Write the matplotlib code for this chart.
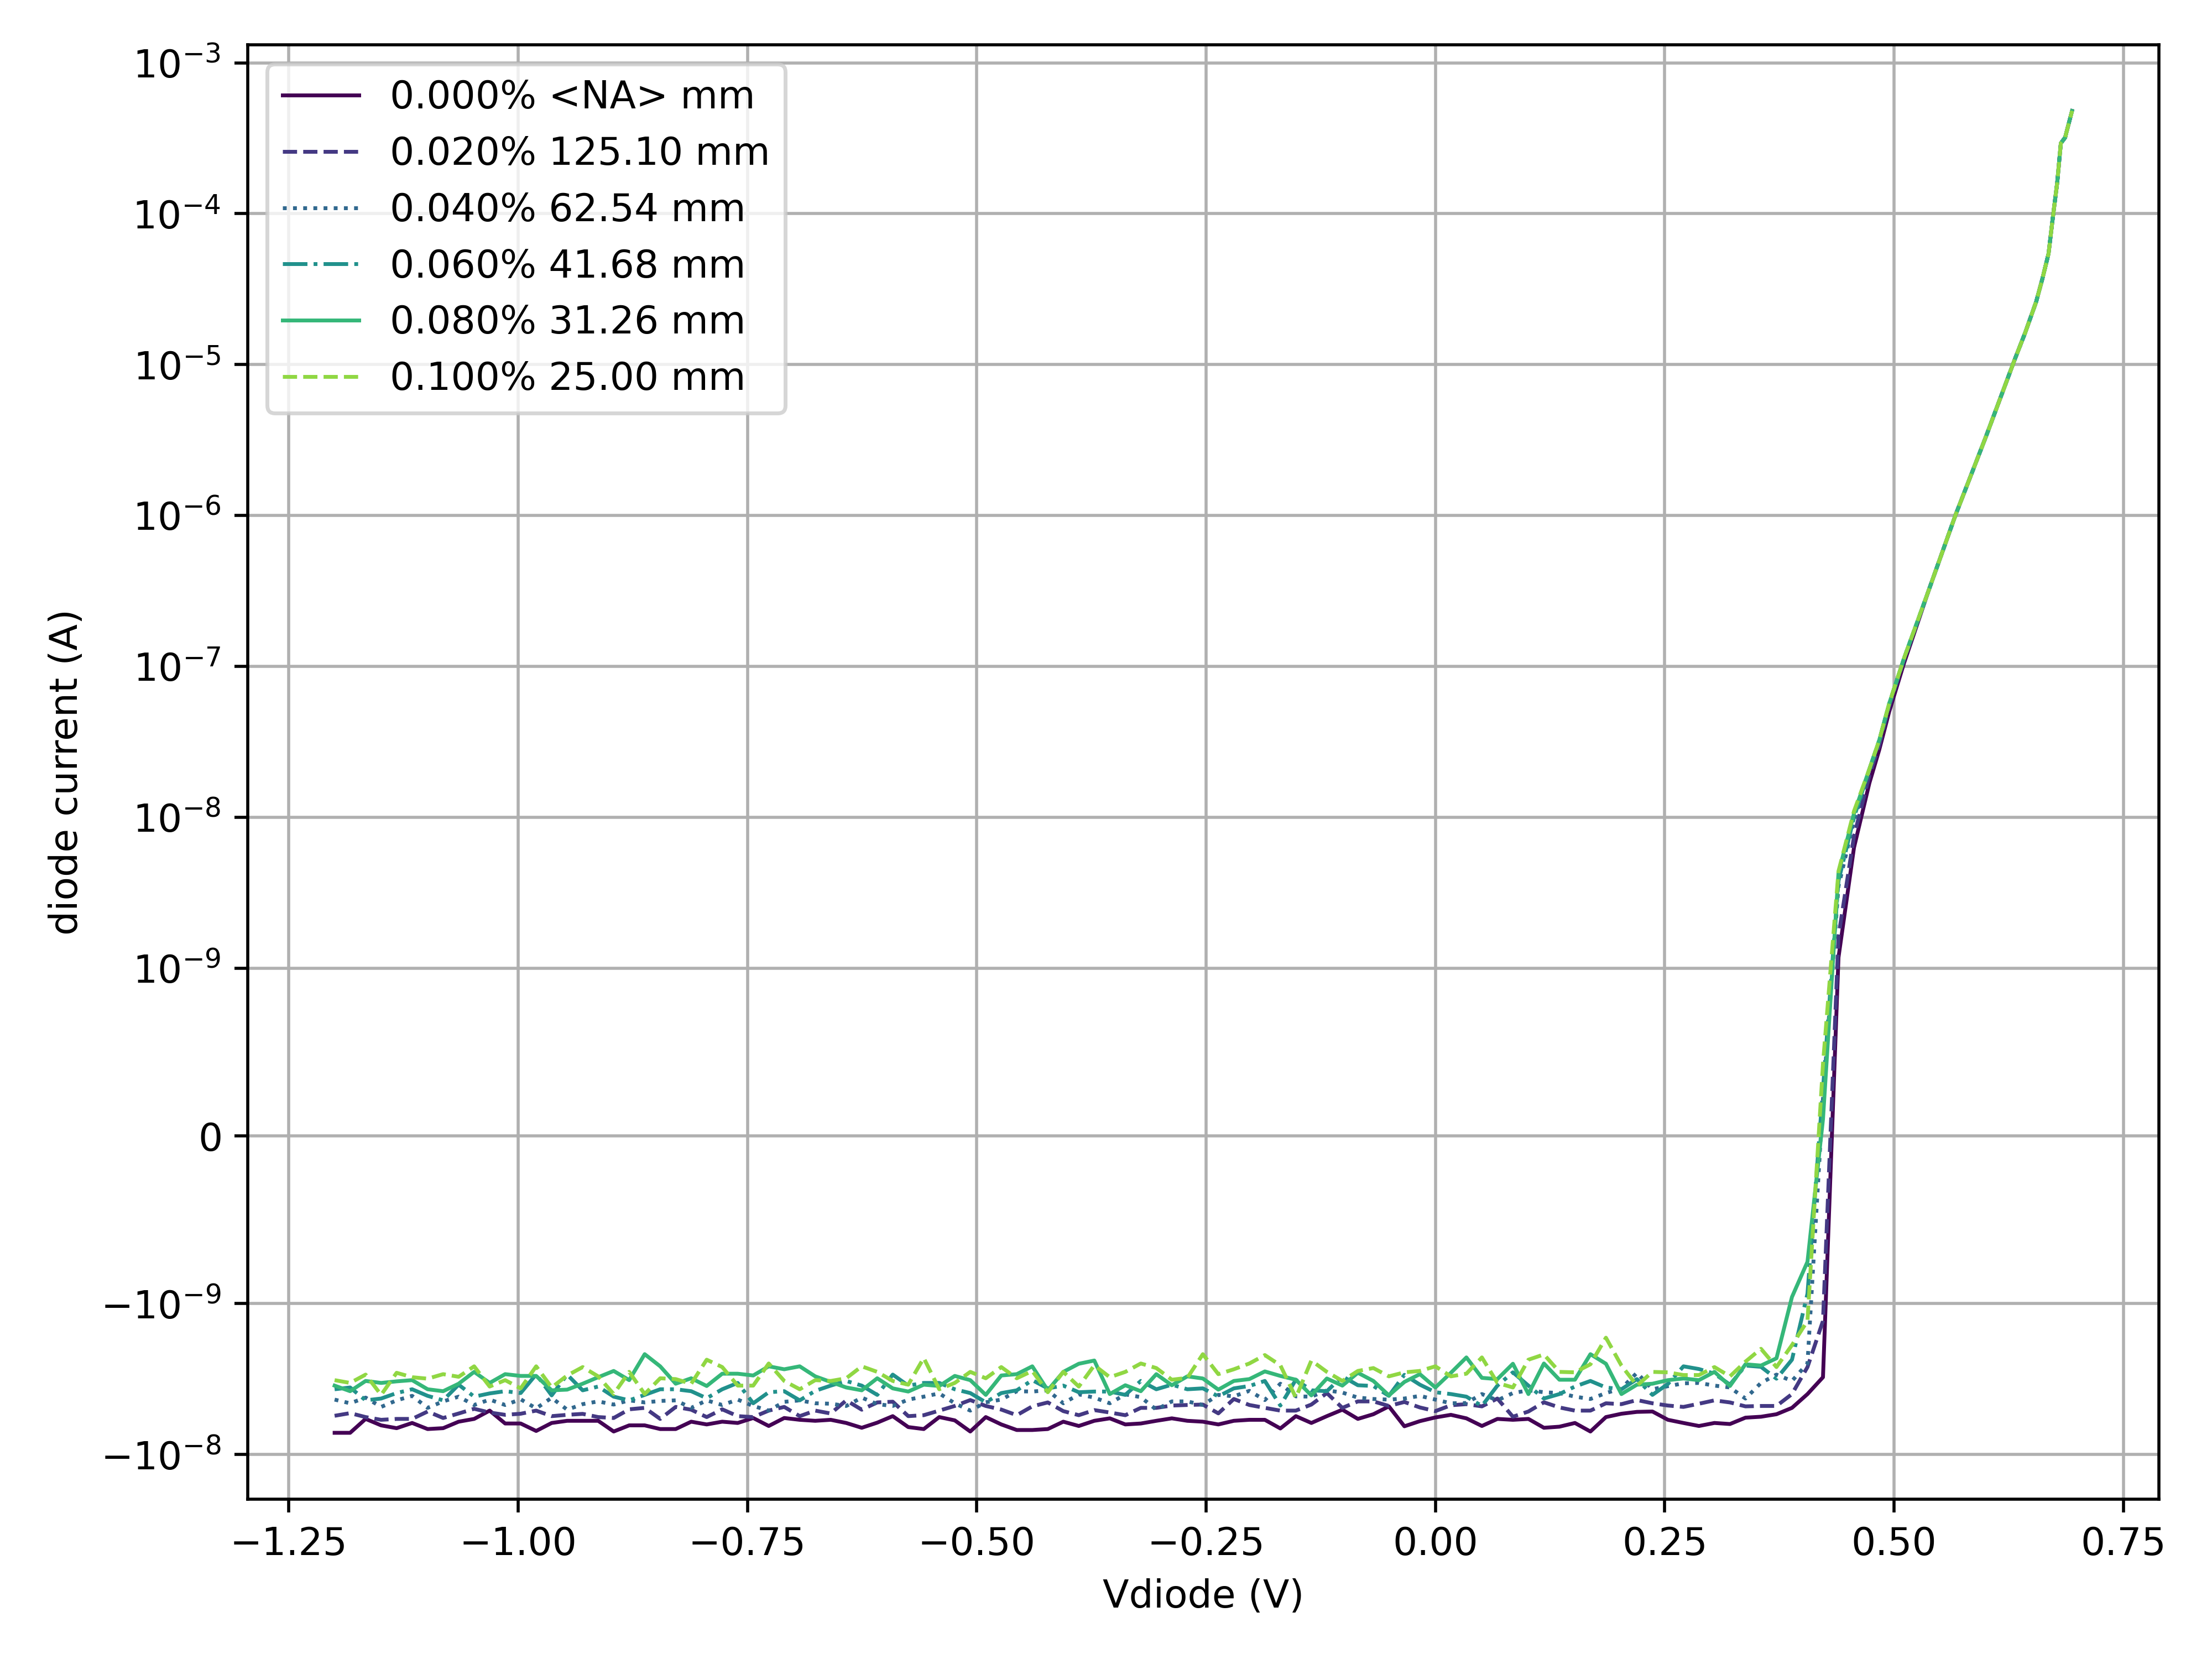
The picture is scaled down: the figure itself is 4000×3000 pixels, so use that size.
import matplotlib
matplotlib.use('Agg')
import matplotlib.pyplot as plt
import numpy as np

labels = ['0.000% <NA> mm', '0.020% 125.10 mm', '0.040% 62.54 mm',
          '0.060% 41.68 mm', '0.080% 31.26 mm', '0.100% 25.00 mm']

# reverse / leakage part: uniform Vdiode grid from -1.2 V up to the knee (97 points)
v_rev = np.linspace(-1.2, 0.4225, 97)

# leakage current in nA (one list per curve)
i_rev_na = [
    [-7.17, -7.17, -5.80, -6.40, -6.68, -6.17, -6.77, -6.68, -6.05, -5.80,
     -5.11, -6.22, -6.22, -6.97, -6.17, -5.97, -5.97, -5.97, -7.03, -6.40,
     -6.40, -6.77, -6.77, -6.05, -6.31, -6.05, -6.17, -5.72, -6.46, -5.72,
     -5.88, -5.97, -5.88, -6.17, -6.64, -6.14, -5.56, -6.57, -6.77, -5.64,
     -5.93, -7.03, -5.64, -6.31, -6.87, -6.87, -6.77, -6.05, -6.46, -5.97,
     -5.75, -6.31, -6.22, -5.97, -5.75, -5.97, -6.05, -6.31, -5.97, -5.88,
     -5.88, -6.71, -5.56, -6.17, -5.56, -5.04, -5.80, -5.40, -4.79, -6.49,
     -6.00, -5.67, -5.45, -5.75, -6.46, -5.80, -5.88, -5.80, -6.64, -6.53,
     -6.17, -7.03, -5.64, -5.36, -5.21, -5.18, -5.88, -6.17, -6.46, -6.17,
     -6.27, -5.69, -5.61, -5.40, -4.90, -3.97, -3.07],
    [-5.53, -5.31, -5.64, -5.88, -5.80, -5.80, -5.18, -5.72, -5.34, -4.97,
     -5.26, -5.45, -5.36, -5.11, -5.56, -5.45, -5.37, -5.64, -5.72, -5.01,
     -4.90, -5.80, -4.83, -5.04, -5.64, -5.01, -5.56, -5.64, -5.11, -4.83,
     -5.56, -5.11, -5.34, -4.37, -5.04, -4.51, -4.46, -5.56, -5.48, -5.11,
     -4.76, -4.35, -4.76, -5.03, -5.48, -4.79, -4.51, -5.15, -5.48, -5.07,
     -5.26, -5.48, -4.90, -4.90, -4.73, -4.69, -4.66, -5.33, -4.28, -4.69,
     -4.90, -5.11, -5.11, -4.66, -3.91, -4.90, -4.44, -4.44, -4.76, -4.48,
     -4.87, -5.15, -4.71, -4.63, -4.79, -4.25, -5.61, -5.18, -4.50, -4.87,
     -5.11, -5.11, -4.57, -4.63, -4.35, -4.57, -4.73, -4.83, -4.60, -4.37,
     -4.51, -4.79, -4.76, -4.76, -3.97, -2.63, -1.30],
    [-4.32, -4.57, -4.19, -4.83, -4.37, -4.08, -4.90, -4.44, -4.13, -4.69,
     -4.32, -4.69, -4.30, -4.94, -4.20, -5.04, -4.63, -4.44, -4.66, -4.37,
     -4.51, -4.41, -4.37, -4.90, -4.37, -4.69, -4.32, -4.76, -5.11, -4.47,
     -4.37, -4.57, -4.60, -4.76, -4.19, -4.63, -4.76, -4.32, -4.13, -3.93,
     -4.57, -5.11, -4.50, -4.32, -3.80, -3.82, -3.75, -4.57, -3.99, -4.19,
     -4.57, -3.99, -4.16, -5.04, -4.44, -4.44, -4.69, -4.02, -4.11, -3.78,
     -4.35, -3.39, -4.11, -4.13, -3.75, -3.88, -4.19, -4.28, -4.32, -4.25,
     -4.08, -4.32, -4.57, -4.55, -3.97, -4.37, -3.91, -3.75, -3.86, -3.91,
     -4.13, -4.28, -3.91, -3.64, -2.87, -3.69, -3.52, -3.37, -3.35, -3.49,
     -3.59, -4.25, -3.35, -2.95, -3.25, -2.49, 0.22],
    [-3.69, -3.59, -4.37, -4.25, -3.91, -3.69, -4.08, -4.37, -3.44, -4.13,
     -3.93, -3.80, -3.91, -2.94, -4.05, -2.95, -3.75, -3.54, -4.13, -4.37,
     -4.02, -3.69, -3.69, -3.80, -4.23, -3.69, -3.35, -4.57, -3.86, -3.80,
     -4.37, -3.78, -3.49, -3.25, -3.49, -4.02, -2.95, -3.49, -3.35, -3.35,
     -3.69, -3.91, -4.50, -3.91, -3.75, -3.21, -3.64, -3.49, -3.86, -3.82,
     -3.82, -4.02, -3.25, -3.69, -3.44, -3.69, -3.64, -4.11, -3.64, -3.51,
     -3.25, -4.73, -3.19, -3.75, -3.80, -3.03, -3.47, -3.51, -4.08, -2.96,
     -3.44, -3.86, -3.97, -4.13, -4.76, -3.49, -2.85, -3.49, -4.25, -3.97,
     -3.54, -3.25, -3.59, -3.69, -3.16, -4.02, -3.40, -2.60, -2.71, -2.91,
     -3.44, -2.57, -2.62, -3.14, -2.35, -0.94, 0.28],
    [-3.49, -3.80, -3.25, -3.35, -3.27, -3.21, -3.69, -3.80, -3.39, -2.83,
     -3.35, -2.93, -3.01, -3.01, -3.75, -3.71, -3.39, -3.07, -2.79, -3.21,
     -2.16, -2.60, -3.39, -3.12, -3.51, -2.91, -2.91, -2.99, -2.60, -2.72,
     -2.60, -3.03, -3.30, -3.59, -3.75, -3.12, -3.64, -3.82, -3.44, -3.51,
     -3.01, -3.21, -4.02, -2.99, -2.93, -2.60, -3.75, -2.83, -2.50, -2.38,
     -3.97, -3.47, -3.80, -2.93, -3.47, -3.03, -3.13, -3.71, -3.25, -3.16,
     -2.81, -3.01, -3.19, -4.05, -3.13, -3.49, -2.87, -3.25, -4.05, -3.30,
     -2.93, -3.59, -2.87, -2.27, -3.10, -3.16, -2.50, -3.97, -2.49, -3.19,
     -3.19, -2.16, -2.50, -3.97, -3.44, -3.39, -3.21, -3.13, -3.21, -2.83,
     -3.51, -2.52, -2.57, -2.30, -0.96, -0.75, 0.10],
    [-3.21, -3.35, -2.95, -4.02, -2.87, -3.07, -3.14, -2.93, -3.05, -2.60,
     -3.54, -3.21, -3.64, -2.60, -3.59, -2.99, -2.63, -3.03, -3.97, -2.83,
     -3.97, -3.12, -3.16, -3.39, -2.35, -2.63, -3.49, -3.49, -2.49, -3.25,
     -3.69, -3.21, -3.25, -3.12, -2.60, -2.83, -3.25, -3.44, -2.29, -3.69,
     -3.35, -2.83, -3.12, -2.63, -3.12, -2.79, -3.86, -2.83, -3.54, -2.56,
     -3.07, -2.83, -2.49, -2.67, -3.19, -3.10, -2.16, -2.93, -2.72, -2.49,
     -2.19, -2.56, -4.19, -2.38, -2.83, -3.25, -2.79, -2.67, -3.03, -2.85,
     -2.79, -2.60, -3.03, -2.91, -2.27, -3.35, -3.59, -2.35, -2.17, -2.83,
     -2.85, -2.52, -1.68, -2.57, -3.49, -2.83, -2.85, -2.97, -2.97, -2.63,
     -3.03, -2.42, -1.99, -2.63, -1.88, -1.30, 0.43],
]

# forward part (A): each curve has its own first points, then they merge
v_fwd = [0.4394, 0.4563, 0.4731, 0.4838, 0.4946, 0.5108]
i_fwd_head = [
    [1.18e-9, 6.3e-9, 1.69e-8, 2.8e-8, 5.0e-8, 1.05e-7],
    [1.63e-9, 7.5e-9, 1.9e-8, 3.0e-8, 5.4e-8, 1.1e-7],
    [3.5e-9, 9.5e-9, 2.05e-8, 3.2e-8, 5.6e-8, 1.13e-7],
    [3.8e-9, 1.0e-8, 2.09e-8, 3.24e-8, 5.65e-8, 1.13e-7],
    [4.28e-9, 1.06e-8, 2.09e-8, 3.24e-8, 5.65e-8, 1.13e-7],
    [4.4e-9, 1.1e-8, 2.09e-8, 3.24e-8, 5.65e-8, 1.13e-7],
]
v_top = [0.5377, 0.5673, 0.5997, 0.6320, 0.6428, 0.6549, 0.6616, 0.6684,
         0.6724, 0.6778, 0.6818, 0.6865, 0.6880, 0.6940]
i_top = [3.19e-7, 1.02e-6, 3.28e-6, 1.10e-5, 1.62e-5, 2.61e-5, 3.69e-5, 5.44e-5,
         8.75e-5, 1.60e-4, 2.93e-4, 3.2e-4, 3.48e-4, 4.8e-4]

colors = plt.cm.viridis(np.linspace(0, 1, 7))
styles = ['-', '--', ':', '-.', '-', '--']

fig, ax = plt.subplots(figsize=(8, 6), dpi=500)
for n in range(6):
    v = np.concatenate([v_rev, v_fwd, v_top])
    i = np.concatenate([np.array(i_rev_na[n]) * 1e-9, i_fwd_head[n], i_top])
    ax.plot(v, i, linestyle=styles[n], color=colors[n], lw=1, label=labels[n])

ax.set_yscale('symlog', linthresh=1e-9)
ax.set_xlabel('Vdiode (V)')
ax.set_ylabel('diode current (A)')
ax.grid(True)
ax.legend(loc='upper left')
fig.subplots_adjust(left=0.112, right=0.976, top=0.973, bottom=0.0965)
fig.savefig('out.png', dpi=500)
